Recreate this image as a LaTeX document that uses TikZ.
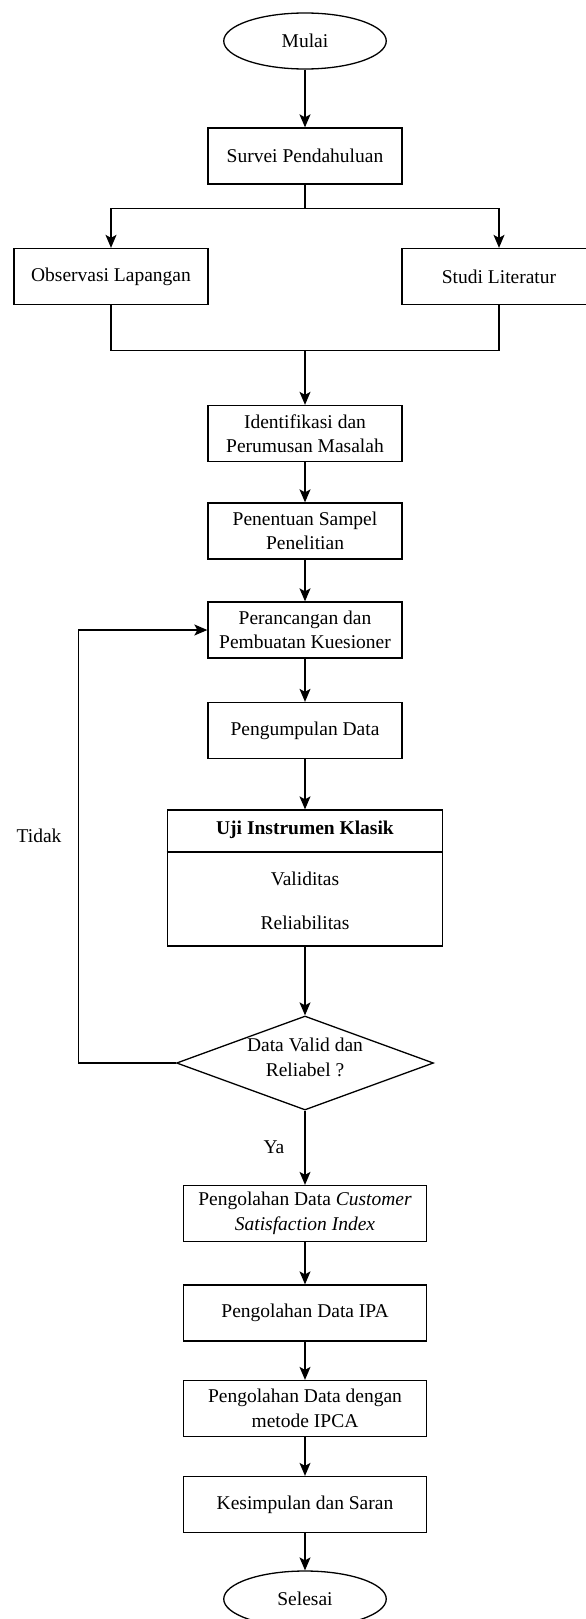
\documentclass[tikz,border=0pt]{standalone}
\usepackage{fontspec}
\setmainfont{Liberation Serif}
\usetikzlibrary{shapes.geometric,arrows.meta}
\begin{document}
\begin{tikzpicture}[x=1pt,y=-1pt,line width=1.3pt,
  txt/.style={font=\fontsize{19.5}{24.5}\selectfont},
  box/.style={draw,rectangle,minimum width=194pt,minimum height=56pt,inner sep=1pt,align=center,txt},
  wbox/.style={box,minimum width=243.3pt},
  term/.style={draw,ellipse,minimum width=162.5pt,minimum height=56pt,inner sep=0pt,txt},
  lbl/.style={inner sep=0pt,align=center,txt},
  arr/.style={-{Stealth[length=13pt,width=11pt,inset=3pt]}}]
\clip (0,0) rectangle (586,1619);
\useasboundingbox (0,0) rectangle (586,1619);
\node[term] (mulai) at (305,41) {Mulai};
\node[box] (survei) at (305,156) {Survei Pendahuluan};
\node[box] (obs) at (111,276.5) {Observasi Lapangan};
\node[box] (studi) at (499,276.5) {Studi Literatur};
\node[box] (ident) at (305,433.5) {Identifikasi dan\\Perumusan Masalah};
\node[box] (sampel) at (305,531) {Penentuan Sampel\\Penelitian};
\node[box] (ranc) at (305,630) {Perancangan dan\\Pembuatan Kuesioner};
\node[box] (kumpul) at (305,730.5) {Pengumpulan Data};
\node[draw,rectangle,minimum width=275.4pt,minimum height=136pt,inner sep=0pt] (uji) at (305,878) {};
\coordinate (divy) at (305,852);
\draw (uji.west |- divy) -- (uji.east |- divy);
\node[lbl,font=\fontsize{19.5}{24.5}\selectfont\bfseries] (ujih) at (305,830) {Uji Instrumen Klasik};
\node[lbl] (valid) at (305,879) {Validitas};
\node[lbl] (reli) at (305,923) {Reliabilitas};
\node[draw,diamond,minimum width=257pt,minimum height=94pt,inner sep=0pt] (dec) at (305,1063) {};
\node[lbl] (dect) at (305,1057.5) {Data Valid dan\\Reliabel ?};
\node[wbox] (csi) at (305,1213.5) {Pengolahan Data \textit{Customer}\\\textit{Satisfaction Index}};
\node[wbox] (ipa) at (305,1313) {Pengolahan Data IPA};
\node[wbox] (ipca) at (305,1408.5) {Pengolahan Data dengan\\metode IPCA};
\node[wbox] (kes) at (305,1504.5) {Kesimpulan dan Saran};
\node[term] (selesai) at (305,1599) {Selesai};
\node[lbl] (tidak) at (39,835.5) {Tidak};
\node[lbl] (ya) at (274,1147) {Ya};
% connectors
\draw[arr] (mulai) -- (survei);
\coordinate (br) at (305,208.4);
\draw (survei) -- (br);
\draw[arr] (br) -| (obs);
\draw[arr] (br) -| (studi);
\coordinate (mg) at (305,350.8);
\draw (obs) |- (mg);
\draw (studi) |- (mg);
\draw[arr] (mg) -- (ident);
\draw[arr] (ident) -- (sampel);
\draw[arr] (sampel) -- (ranc);
\draw[arr] (ranc) -- (kumpul);
\draw[arr] (kumpul) -- (uji);
\draw[arr] (uji) -- (dec);
\coordinate (lpb) at (78.5,1063);
\draw[arr] (dec.west) -- (lpb) |- (ranc.west);
\draw[arr] (dec.south) -- (csi.north);
\draw[arr] (csi) -- (ipa);
\draw[arr] (ipa) -- (ipca);
\draw[arr] (ipca) -- (kes);
\draw[arr] (kes) -- (selesai);
\end{tikzpicture}
\end{document}
